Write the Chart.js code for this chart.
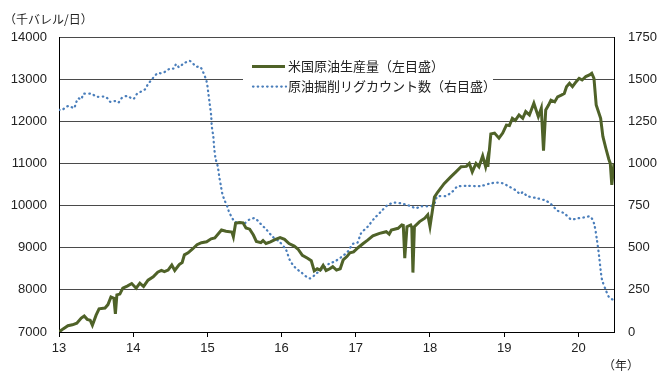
<!DOCTYPE html>
<html>
<head>
<meta charset="utf-8">
<script src="https://cdn.jsdelivr.net/npm/chart.js@4"></script>
<style>
html,body{margin:0;padding:0;background:#fff;}
#wrap{width:658px;height:372px;position:relative;}
</style>
</head>
<body>
<div id="wrap"><canvas id="oilChart"></canvas></div>
<script>
// 米国原油生産量 (left axis, 千バレル/日) - x is year (13 = 2013)
const prodYear = [13.00,13.06,13.12,13.18,13.24,13.30,13.34,13.38,13.42,13.45,13.50,13.54,13.62,13.66,13.70,13.74,13.76,13.78,13.82,13.86,13.92,13.98,
  14.04,14.09,14.14,14.20,14.27,14.33,14.38,14.42,14.47,14.52,14.56,14.62,14.66,14.69,14.74,14.80,14.86,14.92,14.99,
  15.05,15.10,15.19,15.25,15.33,15.35,15.38,15.43,15.48,15.52,15.57,15.62,15.66,15.72,15.75,15.79,15.85,15.91,15.98,
  16.04,16.10,16.17,16.22,16.28,16.35,16.40,16.44,16.48,16.52,16.56,16.60,16.65,16.69,16.74,16.79,16.83,16.88,16.92,16.97,
  17.03,17.10,17.16,17.23,17.32,17.41,17.45,17.48,17.57,17.62,17.64,17.66,17.69,17.74,17.755,17.77,17.79,17.86,17.93,17.97,
  18.00,18.03,18.06,18.10,18.19,18.28,18.35,18.42,18.49,18.53,18.57,18.62,18.66,18.71,18.75,18.77,18.78,18.82,18.87,18.93,18.98,
  19.03,19.07,19.11,19.15,19.20,19.25,19.29,19.34,19.40,19.46,19.50,19.53,19.56,19.60,19.63,19.68,19.72,19.77,19.81,19.84,19.88,19.92,19.97,
  20.01,20.05,20.10,20.15,20.18,20.21,20.24,20.30,20.33,20.37,20.41,20.43,20.45,20.48];
const prodValue = [7000,7080,7150,7170,7210,7330,7380,7300,7280,7160,7400,7550,7570,7650,7830,7800,7430,7880,7900,8040,8090,8150,
  8040,8160,8080,8230,8310,8420,8460,8430,8470,8590,8460,8600,8650,8830,8880,8970,9070,9120,9140,
  9210,9230,9420,9390,9370,9260,9580,9600,9590,9470,9440,9300,9150,9120,9170,9100,9140,9190,9240,
  9200,9100,9040,8970,8820,8750,8690,8450,8500,8470,8580,8460,8500,8550,8470,8500,8710,8790,8880,8900,
  9000,9100,9180,9280,9340,9380,9320,9420,9460,9540,9530,8750,9500,9540,9480,8410,9500,9620,9700,9780,
  9500,9850,10200,10310,10520,10680,10800,10920,10930,11000,10800,11000,10920,11180,10920,11080,10920,11700,11720,11600,11720,
  11910,11900,12070,12020,12150,12070,12230,12150,12430,12110,12310,11300,12270,12390,12500,12460,12580,12620,12660,12820,12900,12820,12940,
  13020,12980,13060,13100,13140,13020,12390,12070,11640,11360,11100,11000,10490,11000];

// 原油掘削リグカウント数 (right axis)
const rigYear = [13.00,13.05,13.10,13.15,13.20,13.23,13.26,13.30,13.33,13.44,13.51,13.62,13.66,13.69,13.75,13.80,13.84,13.92,
  14.00,14.05,14.10,14.16,14.20,14.25,14.29,14.33,14.38,14.43,14.50,14.55,14.58,14.62,14.67,14.76,14.80,14.85,14.90,14.94,14.99,
  15.01,15.03,15.05,15.06,15.08,15.09,15.11,15.14,15.16,15.18,15.20,15.23,15.27,15.29,15.32,15.37,15.44,15.50,15.57,15.64,15.71,15.80,15.88,15.97,
  16.06,16.11,16.18,16.27,16.38,16.47,16.56,16.65,16.71,16.80,16.89,16.96,
  17.02,17.07,17.16,17.25,17.34,17.43,17.52,17.61,17.69,17.75,17.81,17.87,
  18.01,18.06,18.10,18.21,18.30,18.37,18.50,18.68,18.82,18.91,18.98,
  19.07,19.15,19.22,19.25,19.31,19.45,19.56,19.63,19.72,19.81,19.90,19.99,
  20.08,20.16,20.21,20.25,20.28,20.30,20.32,20.37,20.41,20.47];
const rigValue = [1317,1320,1337,1340,1327,1360,1386,1380,1412,1412,1396,1396,1383,1366,1370,1361,1386,1400,
  1382,1412,1425,1440,1471,1497,1519,1535,1535,1544,1564,1564,1590,1570,1590,1608,1595,1574,1574,1544,1485,
  1426,1357,1287,1218,1159,1100,1030,981,921,872,823,783,743,714,688,654,649,645,668,674,645,605,565,536,
  487,427,384,352,318,348,378,408,417,443,476,522,
  528,585,625,674,714,753,767,763,753,745,734,745,
  747,763,803,807,832,862,867,866,882,886,882,
  862,842,818,830,807,793,779,759,720,704,669,674,
  680,684,645,546,447,368,308,249,209,190];

const yearTicks = [13,14,15,16,17,18,19,20];
const leftTicks = [7000,8000,9000,10000,11000,12000,13000,14000];
const rightTicks = [0,250,500,750,1000,1250,1500,1750];

const seriesNames = ['米国原油生産量（左目盛）','原油掘削リグカウント数（右目盛）'];
const greenCol = '#4f6228';
const blueCol = '#4a7ebb';
const tickFont = {family:'"Liberation Sans", Arial, sans-serif', size:13};
const plain = v => String(v);

const textPlugin = {
  id:'textPlugin',
  afterDraw(chart){
    const c = chart.ctx;
    c.save();
    c.fillStyle = '#222';
    c.textBaseline = 'middle';
    c.font = '12px "Noto Sans CJK JP"';
    c.fillText('（千バレル/日）', 4, 19);
    c.fillText('（年）', 603, 365);

    // legend box
    c.fillStyle = '#fff';
    c.fillRect(243, 52, 250, 46);
    c.lineWidth = 3;
    c.strokeStyle = greenCol;
    c.beginPath(); c.moveTo(252, 66.5); c.lineTo(285, 66.5); c.stroke();
    c.lineWidth = 2.25;
    c.strokeStyle = blueCol;
    c.lineCap = 'round';
    c.setLineDash([0.5, 4.2]);
    c.beginPath(); c.moveTo(253, 86.5); c.lineTo(286, 86.5); c.stroke();
    c.setLineDash([]);
    c.fillStyle = '#222';
    c.font = '13px "Noto Sans CJK JP"';
    c.fillText(seriesNames[0], 288, 66.5);
    c.fillText(seriesNames[1], 288, 86.5);
    c.restore();
  }
};

new Chart(document.getElementById('oilChart'), {
  type:'line',
  data:{
    datasets:[{
      label:seriesNames[0],
      data:prodYear.map((t,i)=>({x:t, y:prodValue[i]})),
      borderColor:greenCol,
      borderWidth:3,
      pointRadius:0,
      tension:0,
      yAxisID:'y'
    },{
      label:seriesNames[1],
      data:rigYear.map((t,i)=>({x:t, y:rigValue[i]})),
      borderColor:blueCol,
      borderWidth:2.25,
      borderDash:[0.5,4.2],
      borderCapStyle:'round',
      pointRadius:0,
      tension:0.3,
      yAxisID:'y2'
    }]
  },
  options:{
    responsive:true,
    maintainAspectRatio:false,
    animation:false,
    layout:{padding:{top:37,left:0,right:0,bottom:0}},
    plugins:{legend:{display:false}, tooltip:{enabled:false}},
    scales:{
      x:{
        type:'linear',
        min:13, max:20.48,
        afterFit(s){ s.height = 40; },
        afterBuildTicks(s){ s.ticks = yearTicks.map(v=>({value:v})); },
        ticks:{font:tickFont, color:'#222', padding:4, includeBounds:false, callback:plain},
        grid:{drawOnChartArea:false, drawTicks:true, tickLength:5, color:'#000'},
        border:{color:'#000', width:1}
      },
      y:{
        position:'left',
        min:7000, max:14000,
        afterFit(s){ s.width = 59; },
        afterBuildTicks(s){ s.ticks = leftTicks.map(v=>({value:v})); },
        ticks:{font:tickFont, color:'#222', padding:12, callback:plain},
        grid:{color:'#4a4a4a', drawTicks:false, lineWidth:1},
        border:{color:'#000', width:1}
      },
      y2:{
        position:'right',
        min:0, max:1750,
        afterFit(s){ s.width = 44; },
        afterBuildTicks(s){ s.ticks = rightTicks.map(v=>({value:v})); },
        ticks:{font:tickFont, color:'#222', padding:14, callback:plain},
        grid:{drawOnChartArea:false, drawTicks:false},
        border:{color:'#000', width:1}
      }
    }
  },
  plugins:[textPlugin]
});
</script>
</body>
</html>
